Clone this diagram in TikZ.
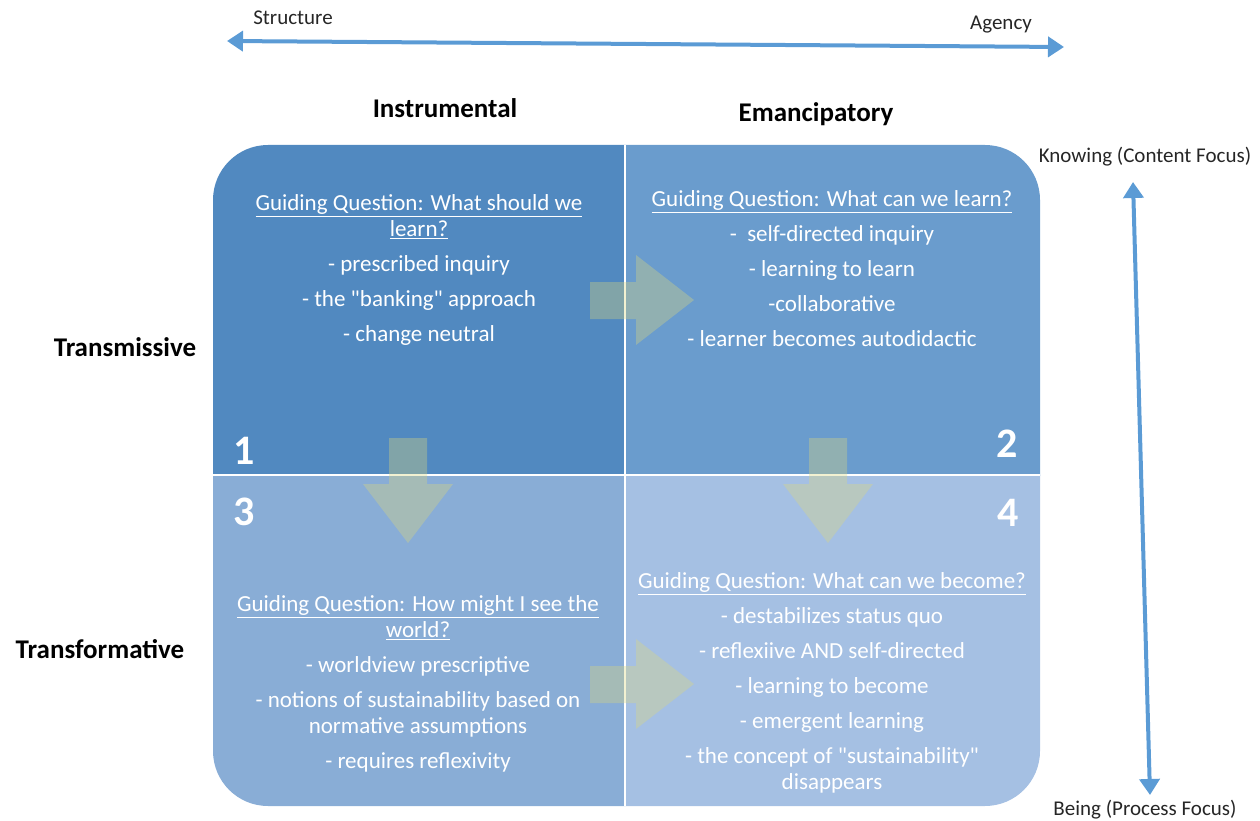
\documentclass[tikz,border=0pt]{standalone}
\usepackage{fontspec}
\setmainfont{Carlito}[Ligatures=TeXOff]
\usetikzlibrary{arrows.meta}
\definecolor{qa}{HTML}{5189C0}
\definecolor{qb}{HTML}{6A9CCD}
\definecolor{qc}{HTML}{89ADD6}
\definecolor{qd}{HTML}{A5C0E3}
\definecolor{axis}{HTML}{5B9BD5}
\definecolor{flow}{RGB}{220,215,125}
\definecolor{lab}{HTML}{262626}
\tikzset{
  body/.style={text=white, align=center, font=\fontsize{23}{26}\selectfont},
  num/.style={text=white, font=\fontsize{42}{44}\selectfont\bfseries},
  head/.style={text=black, font=\fontsize{27}{30}\selectfont\bfseries},
  side/.style={text=lab, font=\fontsize{21}{24}\selectfont},
  axisarrow/.style={draw=axis, line width=4pt, {Triangle[length=16pt,width=20pt]}-{Triangle[length=16pt,width=20pt]}},
  flowarrow/.style={fill=flow, fill opacity=0.35},
  divider/.style={draw=white, line width=1.5pt}
}
\begin{document}
\begin{tikzpicture}[x=1pt,y=-1pt]
\useasboundingbox (0,0) rectangle (1260,821);
% quadrants
\begin{scope}\clip (213,145) rectangle (625,475);
\fill[qa, rounded corners=55] (213,145) rectangle (1040,806);\end{scope}
\begin{scope}\clip (625,145) rectangle (1040,475);
\fill[qb, rounded corners=55] (213,145) rectangle (1040,806);\end{scope}
\begin{scope}\clip (213,475) rectangle (625,806);
\fill[qc, rounded corners=55] (213,145) rectangle (1040,806);\end{scope}
\begin{scope}\clip (625,475) rectangle (1040,806);
\fill[qd, rounded corners=55] (213,145) rectangle (1040,806);\end{scope}
\coordinate (vt) at (625,145);
\coordinate (vb) at (625,806);
\coordinate (hl) at (213,475);
\coordinate (hr) at (1040,475);
\draw[divider] (vt) -- (vb);
\draw[divider] (hl) -- (hr);
% flow arrows
\fill[flowarrow] (590,282) -- (636,282) -- (636,255) -- (694,300) -- (636,345) -- (636,319) -- (590,319) -- cycle;
\fill[flowarrow] (590,666) -- (636,666) -- (636,639) -- (694,684) -- (636,729) -- (636,703) -- (590,703) -- cycle;
\fill[flowarrow] (389,438) -- (427,438) -- (427,484) -- (453,484) -- (408,543) -- (363,484) -- (389,484) -- cycle;
\fill[flowarrow] (809,438) -- (847,438) -- (847,484) -- (873,484) -- (828,543) -- (783,484) -- (809,484) -- cycle;
% headings
\node[head] (instr) at (445,108) {Instrumental};
\node[head] (emanc) at (816,114) {Emancipatory};
\node[head] (trans) at (125,347) {Transmissive};
\node[head] (transf) at (100,649) {Transformative};
% numbers
\node[num] (n1) at (244,451) {1};
\node[num] (n2) at (1007,444) {2};
\node[num] (n3) at (244,512) {3};
\node[num] (n4) at (1008,513) {4};
% quadrant text
\node[body, anchor=north] (t1) at (419,191) {\underline{Guiding Question: What should we}\\\underline{learn?}\\[9pt]- prescribed inquiry\\[9pt]- the "banking" approach\\[9pt]- change neutral};
\node[body, anchor=north] (t2) at (832,187) {\underline{Guiding Question: What can we learn?}\\[9pt]-~ self-directed inquiry\\[9pt]- learning to learn\\[9pt]-collaborative\\[9pt]- learner becomes autodidactic};
\node[body, anchor=north] (t3) at (418,592) {\underline{Guiding Question: How might I see the}\\\underline{world?}\\[9pt]- worldview prescriptive\\[9pt]- notions of sustainability based on\\normative assumptions\\[9pt]- requires reflexivity};
\node[body, anchor=north] (t4) at (832,569) {\underline{Guiding Question: What can we become?}\\[9pt]- destabilizes status quo\\[9pt]- reflexiive AND self-directed\\[9pt]- learning to become\\[9pt]- emergent learning\\[9pt]- the concept of "sustainability"\\disappears};
% axes
\node[side] (struct) at (293,18) {Structure};
\node[side] (agency) at (1001,25) {Agency};
\coordinate (al) at (227,41);
\coordinate (ar) at (1064,47);
\draw[axisarrow] (al) -- (ar);
\node[side] (know) at (1145,157) {Knowing (Content Focus)};
\node[side] (being) at (1145,810) {Being (Process Focus)};
\coordinate (at) at (1133,182);
\coordinate (ab) at (1150,795);
\draw[axisarrow] (at) -- (ab);
\end{tikzpicture}
\end{document}
